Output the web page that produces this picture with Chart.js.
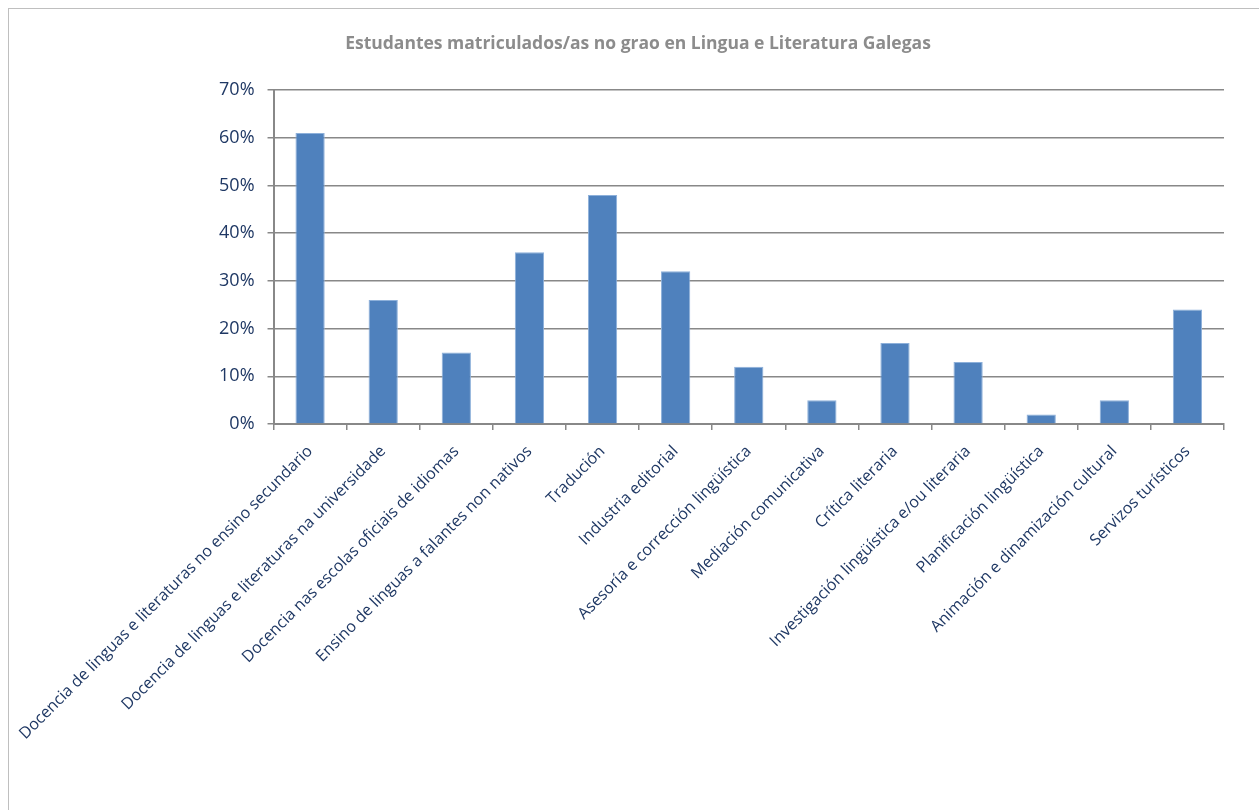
<!DOCTYPE html>
<html>
<head>
<meta charset="utf-8">
<script src="https://cdn.jsdelivr.net/npm/chart.js@4/dist/chart.umd.min.js"></script>
<style>
  html, body { margin: 0; padding: 0; background: #fff; overflow: hidden; }
  #frame { position: absolute; left: 8px; top: 8px; width: 1300px; height: 900px; border: 1px solid #BFBFBF; }
  #wrap { position: absolute; left: 0; top: 0; width: 1259px; height: 810px; }
</style>
</head>
<body>
<div id="frame"></div>
<div id="wrap"><canvas id="chart" width="1259" height="810"></canvas></div>
<script>
const chartTitle = "Estudantes matriculados/as no grao en Lingua e Literatura Galegas";
const categories = [
  "Docencia de linguas e literaturas no ensino secundario",
  "Docencia de linguas e literaturas na universidade",
  "Docencia nas escolas oficiais de idiomas",
  "Ensino de linguas a falantes non nativos",
  "Tradución",
  "Industria editorial",
  "Asesoría e corrección lingüística",
  "Mediación comunicativa",
  "Crítica literaria",
  "Investigación lingüística e/ou literaria",
  "Planificación lingüística",
  "Animación e dinamización cultural",
  "Servizos turísticos"
];
const percentages = [61, 26, 15, 36, 48, 32, 12, 5, 17, 13, 2, 5, 24];
const yTicks = [0, 10, 20, 30, 40, 50, 60, 70];

const labelColor = "#1F3864";
const gridColor = "#888888";

const ctx = document.getElementById("chart");
new Chart(ctx, {
  type: "bar",
  data: {
    labels: categories,
    datasets: [{
      data: percentages,
      backgroundColor: "#4F81BD",
      borderColor: "#8DB0DA",
      borderWidth: 1,
      categoryPercentage: 1,
      barPercentage: 0.4
    }]
  },
  options: {
    responsive: false,
    animation: false,
    // left padding keeps the title centred where the reference has it
    layout: { padding: { left: 52, right: 35, top: 0, bottom: 0 } },
    plugins: {
      legend: { display: false },
      tooltip: { enabled: false },
      title: {
        display: true,
        text: chartTitle,
        color: "#8C8C8C",
        font: { family: "'Open Sans'", size: 17.5, weight: "bold", lineHeight: 1.2 },
        padding: { top: 34, bottom: 35 }
      }
    },
    scales: {
      x: {
        offset: true,
        grid: { display: true, drawOnChartArea: false, drawTicks: true, tickLength: 6, offset: true, color: gridColor, lineWidth: 1.5 },
        border: { display: true, color: gridColor, width: 2 },
        ticks: {
          autoSkip: false,
          minRotation: 45,
          maxRotation: 45,
          color: labelColor,
          padding: 12,
          font: { family: "'Open Sans'", size: 16 }
        },
        afterFit: s => { s.height = 386; }
      },
      y: {
        min: 0,
        max: 70,
        afterBuildTicks: s => { s.ticks = yTicks.map(v => ({ value: v })); },
        grid: { color: gridColor, lineWidth: 1.5, tickLength: 6 },
        border: { display: true, color: gridColor, width: 2 },
        ticks: {
          color: labelColor,
          padding: 13,
          font: { family: "'Open Sans'", size: 18 },
          callback: v => v + "%"
        },
        afterFit: s => { s.width = 217; }
      }
    }
  }
});
</script>
</body>
</html>
